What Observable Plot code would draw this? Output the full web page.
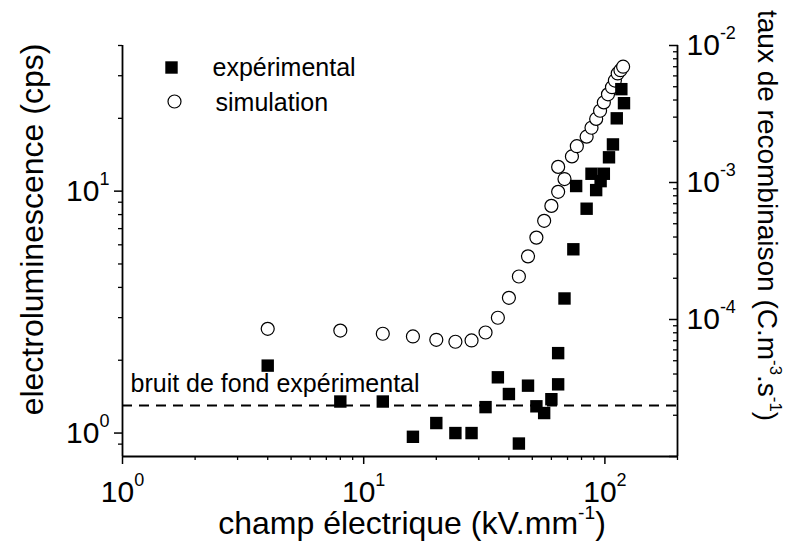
<!DOCTYPE html>
<html>
<head>
<meta charset="utf-8">
<script src="https://cdn.jsdelivr.net/npm/d3@7"></script>
<script src="https://cdn.jsdelivr.net/npm/@observablehq/plot@0.6"></script>
<style>
  html, body { margin: 0; padding: 0; background: #fff; }
  #chart svg { display: block; }
</style>
</head>
<body>
<div id="chart"></div>
<script>
// ---- data ----
const fieldExp = [4, 8, 12, 16, 20, 24, 28, 32, 36, 40, 44, 48, 52, 56, 60, 64, 64, 68, 74, 76, 84, 88, 92, 96, 99, 104, 108, 112, 117, 120];
const elExp    = [1.90, 1.35, 1.35, 0.965, 1.10, 1.0, 1.0, 1.28, 1.70, 1.45, 0.905, 1.57, 1.29, 1.21, 1.38, 1.59, 2.14, 3.60, 5.75, 10.5, 8.46, 11.8, 10.1, 11.0, 11.8, 13.8, 15.6, 20.0, 26.4, 23.1];
const fieldSim = [4, 8, 12, 16, 20, 24, 28, 32, 36, 40, 44, 48, 52, 56, 60, 64, 64, 68, 73, 76.5, 84, 88, 92, 95.5, 99, 103, 107, 110, 113, 116, 119];
const rateSim  = [8.55e-5, 8.3e-5, 7.87e-5, 7.52e-5, 7.11e-5, 6.88e-5, 7.03e-5, 8.04e-5, 1.03e-4, 1.44e-4, 2.06e-4, 2.89e-4, 3.96e-4, 5.25e-4, 6.75e-4, 8.55e-4, 1.30e-3, 1.06e-3, 1.55e-3, 1.84e-3, 2.16e-3, 2.51e-3, 2.91e-3, 3.34e-3, 3.84e-3, 4.40e-3, 4.96e-3, 5.55e-3, 6.25e-3, 6.6e-3, 7.0e-3];
const noiseLevel = 1.30;
const noiseLabel = "bruit de fond expérimental";
const seriesNames = ["expérimental", "simulation"];

const xDomain = [1, 200];
const yDomain = [0.8, 40];
const rightDomain = [1e-5, 1e-2];

const xMajorTicks = [1, 10, 100];
const xMinorTicks = [2, 3, 4, 5, 6, 7, 8, 9, 20, 30, 40, 50, 60, 70, 80, 90, 200];
const yMajorTicks = [1, 10];
const yMinorTicks = [0.9, 2, 3, 4, 5, 6, 7, 8, 9, 20, 30, 40];
const rightMajorTicks = [1e-5, 1e-4, 1e-3, 1e-2];
const rightMinorTicks = [2e-5, 3e-5, 4e-5, 5e-5, 6e-5, 7e-5, 8e-5, 9e-5,
                         2e-4, 3e-4, 4e-4, 5e-4, 6e-4, 7e-4, 8e-4, 9e-4,
                         2e-3, 3e-3, 4e-3, 5e-3, 6e-3, 7e-3, 8e-3, 9e-3];

const xTitle = "champ électrique (kV.mm^{-1})";
const yTitle = "electroluminescence (cps)";
const rightTitle = "taux de recombinaison (C.m^{-3}.s^{-1})";

// ---- right (secondary) log axis mapped onto the left y scale ----
const lr0 = Math.log10(rightDomain[0]), lr1 = Math.log10(rightDomain[1]);
const ly0 = Math.log10(yDomain[0]), ly1 = Math.log10(yDomain[1]);
const toLeft = v => Math.pow(10, ly0 + (Math.log10(v) - lr0) / (lr1 - lr0) * (ly1 - ly0));
const fromLeft = v => Math.pow(10, lr0 + (Math.log10(v) - ly0) / (ly1 - ly0) * (lr1 - lr0));

const expData = fieldExp.map((x, i) => ({x, y: elExp[i]}));
const simData = fieldSim.map((x, i) => ({x, y: toLeft(rateSim[i])}));

const powLabel = d => `10^{${Math.round(Math.log10(d))}}`;
const FONT = "'Liberation Sans', Arial, Helvetica, sans-serif";
const TICK_FS = 30, LEG_FS = 25;

const chart = Plot.plot({
  width: 788,
  height: 547,
  marginLeft: 122,
  marginRight: 111,
  marginTop: 45,
  marginBottom: 91,
  style: {fontFamily: FONT, color: "black", background: "white", overflow: "visible"},
  x: {type: "log", domain: xDomain},
  y: {type: "log", domain: yDomain},
  marks: [
    // axes frame lines
    Plot.ruleY([yDomain[0]], {stroke: "black", strokeWidth: 1.8}),
    Plot.ruleX(xDomain, {stroke: "black", strokeWidth: 1.8}),

    // bottom axis
    Plot.axisX(xMajorTicks, {anchor: "bottom", label: null, tickSize: 8, tickPadding: 16,
      strokeWidth: 1.5, fontSize: TICK_FS, tickFormat: powLabel}),
    Plot.axisX(xMinorTicks, {anchor: "bottom", label: null, tickSize: 4, strokeWidth: 1.3,
      tickFormat: () => ""}),

    // left axis
    Plot.axisY(yMajorTicks, {anchor: "left", label: null, tickSize: 8, tickPadding: 5,
      strokeWidth: 1.5, fontSize: TICK_FS, tickFormat: powLabel}),
    Plot.axisY(yMinorTicks, {anchor: "left", label: null, tickSize: 4, strokeWidth: 1.3,
      tickFormat: () => ""}),

    // right axis (ticks pointing inward, labels outside)
    Plot.axisY(rightMajorTicks.map(toLeft), {anchor: "right", label: null, tickSize: 9, dx: -9,
      strokeWidth: 1.5, tickFormat: () => ""}),
    Plot.axisY(rightMinorTicks.map(toLeft), {anchor: "right", label: null, tickSize: 5, dx: -5,
      strokeWidth: 1.3, tickFormat: () => ""}),
    Plot.axisY(rightMajorTicks.map(toLeft), {anchor: "right", label: null, tickSize: 0, tickPadding: 9,
      fontSize: TICK_FS, tickFormat: d => powLabel(fromLeft(d))}),

    // noise level
    Plot.ruleY([noiseLevel], {stroke: "black", strokeWidth: 2, strokeDasharray: "10,7"}),
    Plot.text([noiseLabel], {x: xDomain[0], y: noiseLevel, text: d => d, textAnchor: "start",
      lineAnchor: "middle", dx: 8, dy: -21, fontSize: LEG_FS, fill: "black"}),

    // data
    Plot.dot(simData, {x: "x", y: "y", symbol: "circle", r: 6.5, fill: "white", stroke: "black", strokeWidth: 1.2}),
    Plot.dot(expData, {x: "x", y: "y", symbol: "square", r: 7, fill: "black", stroke: "none"}),

    // legend
    Plot.dot([seriesNames[0]], {frameAnchor: "top-left", dx: 49, dy: 22, symbol: "square", r: 7, fill: "black"}),
    Plot.text([seriesNames[0]], {frameAnchor: "top-left", dx: 90, dy: 22, text: d => d, textAnchor: "start",
      lineAnchor: "middle", fontSize: LEG_FS, fill: "black"}),
    Plot.dot([seriesNames[1]], {frameAnchor: "top-left", dx: 52, dy: 56, symbol: "circle", r: 6.5,
      fill: "white", stroke: "black", strokeWidth: 1.2}),
    Plot.text([seriesNames[1]], {frameAnchor: "top-left", dx: 93, dy: 57, text: d => d, textAnchor: "start",
      lineAnchor: "middle", fontSize: LEG_FS, fill: "black"}),

    // axis titles
    Plot.text([xTitle], {frameAnchor: "bottom", dx: 12, dy: 67, text: d => d, textAnchor: "middle",
      lineAnchor: "middle", fontSize: 32, fill: "black"}),
    Plot.text([yTitle], {frameAnchor: "left", dx: -90, dy: -21.5, rotate: -90, text: d => d, textAnchor: "middle",
      lineAnchor: "middle", fontSize: 32, fill: "black"}),
    Plot.text([rightTitle], {frameAnchor: "right", dx: 89, dy: -35.5, rotate: 90, text: d => d, textAnchor: "middle",
      lineAnchor: "middle", fontSize: 28, fill: "black"})
  ]
});

// ---- turn "^{...}" into real superscripts ----
function fontSizeOf(el) {
  while (el && el.getAttribute) {
    const f = el.getAttribute("font-size");
    if (f) return parseFloat(f);
    el = el.parentNode;
  }
  return 10;
}
chart.querySelectorAll("text").forEach(t => {
  const s = t.textContent;
  if (!s.includes("^{")) return;
  const fs = fontSizeOf(t);
  const isTitle = s.length > 12;
  const shift = (isTitle ? 0.45 : 0.53) * fs;
  while (t.firstChild) t.removeChild(t.firstChild);
  const parts = s.split(/(\^\{[^}]*\})/).filter(p => p.length);
  let raised = false;
  parts.forEach(p => {
    const ts = document.createElementNS("http://www.w3.org/2000/svg", "tspan");
    if (p.startsWith("^{")) {
      ts.textContent = p.slice(2, -1);
      ts.setAttribute("font-size", (0.6 * fs).toFixed(1));
      ts.setAttribute("dy", (-shift).toFixed(1));
      raised = true;
    } else {
      ts.textContent = p;
      if (raised) { ts.setAttribute("dy", shift.toFixed(1)); raised = false; }
    }
    t.appendChild(ts);
  });
});

document.getElementById("chart").appendChild(chart);
</script>
</body>
</html>
